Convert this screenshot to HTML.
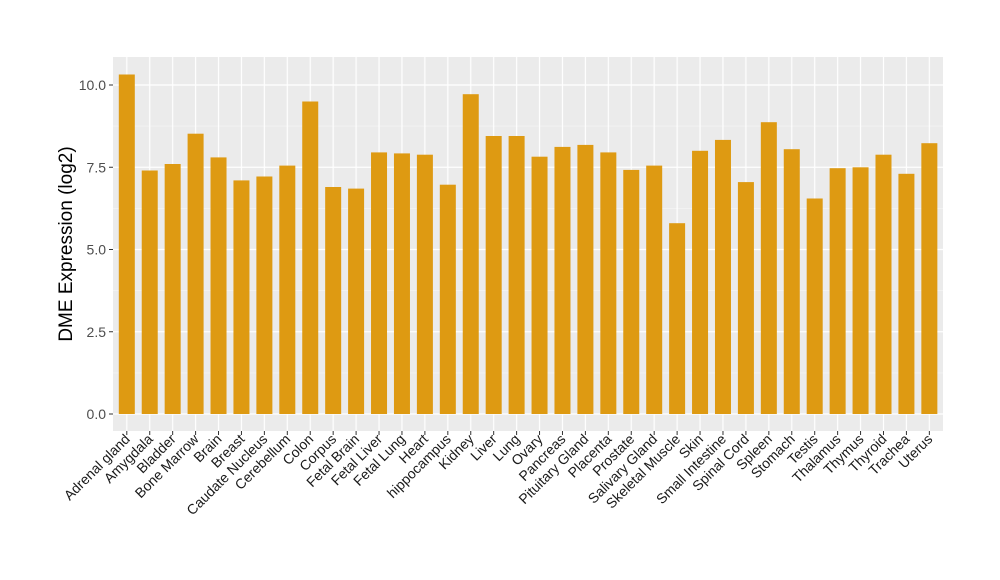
<!DOCTYPE html>
<html><head><meta charset="utf-8"><style>body{margin:0;background:#fff}svg{display:block}</style></head><body>
<svg width="1000" height="580" xmlns="http://www.w3.org/2000/svg" font-family="Liberation Sans, sans-serif">
<defs>
<pattern id="vg" patternUnits="userSpaceOnUse" x="115.335" y="0" width="22.93" height="600">
<line x1="11.465" x2="11.465" y1="0" y2="600" stroke="#fff" stroke-width="1.2"/>
</pattern>
</defs>
<rect x="113" y="57" width="830" height="374" fill="#EBEBEB"/>
<g stroke="#F6F6F6" stroke-width="0.6">
<line x1="113" x2="943" y1="372.9" y2="372.9"/><line x1="113" x2="943" y1="290.6" y2="290.6"/><line x1="113" x2="943" y1="208.4" y2="208.4"/><line x1="113" x2="943" y1="126.1" y2="126.1"/>
</g>
<g stroke="#fff" stroke-width="1.2">
<line x1="113" x2="943" y1="414" y2="414"/><line x1="113" x2="943" y1="331.75" y2="331.75"/><line x1="113" x2="943" y1="249.5" y2="249.5"/><line x1="113" x2="943" y1="167.25" y2="167.25"/><line x1="113" x2="943" y1="85" y2="85"/>
</g>
<rect x="115" y="57" width="826" height="374" fill="url(#vg)"/>
<g stroke="#333" stroke-width="1">
<line x1="109" x2="113" y1="414" y2="414"/><line x1="109" x2="113" y1="331.75" y2="331.75"/><line x1="109" x2="113" y1="249.5" y2="249.5"/><line x1="109" x2="113" y1="167.25" y2="167.25"/><line x1="109" x2="113" y1="85" y2="85"/>
</g>
<g font-size="14" fill="#4D4D4D" text-anchor="end">
<text x="106" y="419">0.0</text><text x="106" y="336.75">2.5</text><text x="106" y="254.5">5.0</text><text x="106" y="172.25">7.5</text><text x="106" y="90">10.0</text>
</g>
<g fill="#DE9A12">
<rect x="118.8" y="74.5" width="16" height="339.5"/>
<rect x="141.73" y="170.5" width="16" height="243.5"/>
<rect x="164.66" y="164" width="16" height="250"/>
<rect x="187.59" y="133.7" width="16" height="280.3"/>
<rect x="210.52" y="157.4" width="16" height="256.6"/>
<rect x="233.45" y="180.4" width="16" height="233.6"/>
<rect x="256.38" y="176.5" width="16" height="237.5"/>
<rect x="279.31" y="165.6" width="16" height="248.4"/>
<rect x="302.24" y="101.5" width="16" height="312.5"/>
<rect x="325.17" y="187" width="16" height="227"/>
<rect x="348.1" y="188.6" width="16" height="225.4"/>
<rect x="371.03" y="152.4" width="16" height="261.6"/>
<rect x="393.96" y="153.4" width="16" height="260.6"/>
<rect x="416.89" y="154.7" width="16" height="259.3"/>
<rect x="439.82" y="184.7" width="16" height="229.3"/>
<rect x="462.75" y="94.2" width="16" height="319.8"/>
<rect x="485.68" y="136" width="16" height="278"/>
<rect x="508.61" y="136" width="16" height="278"/>
<rect x="531.54" y="156.7" width="16" height="257.3"/>
<rect x="554.47" y="146.9" width="16" height="267.1"/>
<rect x="577.4" y="144.9" width="16" height="269.1"/>
<rect x="600.33" y="152.4" width="16" height="261.6"/>
<rect x="623.26" y="169.9" width="16" height="244.1"/>
<rect x="646.19" y="165.6" width="16" height="248.4"/>
<rect x="669.12" y="223.2" width="16" height="190.8"/>
<rect x="692.05" y="150.8" width="16" height="263.2"/>
<rect x="714.98" y="139.9" width="16" height="274.1"/>
<rect x="737.91" y="182.1" width="16" height="231.9"/>
<rect x="760.84" y="122.2" width="16" height="291.8"/>
<rect x="783.77" y="149.2" width="16" height="264.8"/>
<rect x="806.7" y="198.5" width="16" height="215.5"/>
<rect x="829.63" y="168.2" width="16" height="245.8"/>
<rect x="852.56" y="167.3" width="16" height="246.7"/>
<rect x="875.49" y="154.7" width="16" height="259.3"/>
<rect x="898.42" y="173.8" width="16" height="240.2"/>
<rect x="921.35" y="143.2" width="16" height="270.8"/>
</g>
<rect x="115.335" y="431" width="826" height="4" fill="url(#vg)" opacity="0"/>
<g stroke="#333" stroke-width="1">
<path d="M126.8 431v4M149.73 431v4M172.66 431v4M195.59 431v4M218.52 431v4M241.45 431v4M264.38 431v4M287.31 431v4M310.24 431v4M333.17 431v4M356.1 431v4M379.03 431v4M401.96 431v4M424.89 431v4M447.82 431v4M470.75 431v4M493.68 431v4M516.61 431v4M539.54 431v4M562.47 431v4M585.4 431v4M608.33 431v4M631.26 431v4M654.19 431v4M677.12 431v4M700.05 431v4M722.98 431v4M745.91 431v4M768.84 431v4M791.77 431v4M814.7 431v4M837.63 431v4M860.56 431v4M883.49 431v4M906.42 431v4M929.35 431v4"/>
</g>
<g font-size="14" fill="#1a1a1a" text-anchor="end">
<text transform="translate(130.8,440) rotate(-45)">Adrenal gland</text>
<text transform="translate(153.73,440) rotate(-45)">Amygdala</text>
<text transform="translate(176.66,440) rotate(-45)">Bladder</text>
<text transform="translate(199.59,440) rotate(-45)">Bone Marrow</text>
<text transform="translate(222.52,440) rotate(-45)">Brain</text>
<text transform="translate(245.45,440) rotate(-45)">Breast</text>
<text transform="translate(268.38,440) rotate(-45)">Caudate Nucleus</text>
<text transform="translate(291.31,440) rotate(-45)">Cerebellum</text>
<text transform="translate(314.24,440) rotate(-45)">Colon</text>
<text transform="translate(337.17,440) rotate(-45)">Corpus</text>
<text transform="translate(360.1,440) rotate(-45)">Fetal Brain</text>
<text transform="translate(383.03,440) rotate(-45)">Fetal Liver</text>
<text transform="translate(405.96,440) rotate(-45)">Fetal Lung</text>
<text transform="translate(428.89,440) rotate(-45)">Heart</text>
<text transform="translate(451.82,440) rotate(-45)">hippocampus</text>
<text transform="translate(474.75,440) rotate(-45)">Kidney</text>
<text transform="translate(497.68,440) rotate(-45)">Liver</text>
<text transform="translate(520.61,440) rotate(-45)">Lung</text>
<text transform="translate(543.54,440) rotate(-45)">Ovary</text>
<text transform="translate(566.47,440) rotate(-45)">Pancreas</text>
<text transform="translate(589.4,440) rotate(-45)">Pituitary Gland</text>
<text transform="translate(612.33,440) rotate(-45)">Placenta</text>
<text transform="translate(635.26,440) rotate(-45)">Prostate</text>
<text transform="translate(658.19,440) rotate(-45)">Salivary Gland</text>
<text transform="translate(681.12,440) rotate(-45)">Skeletal Muscle</text>
<text transform="translate(704.05,440) rotate(-45)">Skin</text>
<text transform="translate(726.98,440) rotate(-45)">Small Intestine</text>
<text transform="translate(749.91,440) rotate(-45)">Spinal Cord</text>
<text transform="translate(772.84,440) rotate(-45)">Spleen</text>
<text transform="translate(795.77,440) rotate(-45)">Stomach</text>
<text transform="translate(818.7,440) rotate(-45)">Testis</text>
<text transform="translate(841.63,440) rotate(-45)">Thalamus</text>
<text transform="translate(864.56,440) rotate(-45)">Thymus</text>
<text transform="translate(887.49,440) rotate(-45)">Thyroid</text>
<text transform="translate(910.42,440) rotate(-45)">Trachea</text>
<text transform="translate(933.35,440) rotate(-45)">Uterus</text>
</g>
<text transform="translate(72,244) rotate(-90)" text-anchor="middle" font-size="19" fill="#000">DME Expression (log2)</text>
</svg>
</body></html>
